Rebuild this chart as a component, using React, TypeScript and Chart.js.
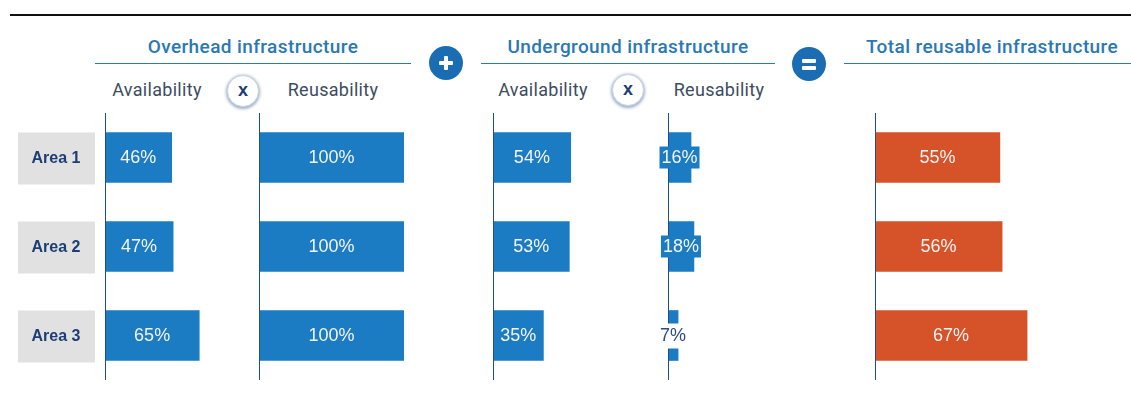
import React, { useEffect, useRef } from "react";
import { Chart, registerables } from "chart.js";

Chart.register(...registerables);

// ---- data ----
const categories = ["Area 1", "Area 2", "Area 3"];
const overheadAvailability = [46, 47, 65];
const overheadReusability = [100, 100, 100];
const undergroundAvailability = [54, 53, 35];
const undergroundReusability = [16, 18, 7];
const totalReusable = [55, 56, 67];

const BLUE = "#1b7cc3";
const ORANGE = "#d65229";
const NAVY = "#1e4f8b";
const TITLE_BLUE = "#2a78b5";
const SUB_GREY = "#3d4c60";
const AREA_NAVY = "#1d3d74";

const CHART_TOP = 113;
const CHART_H = 267;
const PAD = 24;

type PanelProps = {
  values: number[];
  color: string;
  axisX: number;
  pxPerUnit: number;
  max: number;
  withCategories?: boolean;
};

const labelPlugin = {
  id: "panelLabels",
  afterDatasetsDraw(chart: any) {
    const { ctx, chartArea } = chart;
    const opts = chart.options.plugins.panelLabels || {};
    ctx.save();
    // category boxes
    if (opts.withCategories) {
      const meta = chart.getDatasetMeta(0);
      meta.data.forEach((bar: any, i: number) => {
        const y = bar.y;
        ctx.fillStyle = "#e1e1e1";
        ctx.fillRect(18, y - 25, 77, 52);
        ctx.fillStyle = AREA_NAVY;
        ctx.font = "bold 16px 'Liberation Sans', Arial, sans-serif";
        ctx.textAlign = "center";
        ctx.textBaseline = "middle";
        ctx.fillText(chart.data.labels[i], 56, y + 1);
      });
    }
    // axis line
    ctx.strokeStyle = NAVY;
    ctx.lineWidth = 1;
    ctx.beginPath();
    ctx.moveTo(Math.round(chartArea.left) + 0.5, chartArea.top);
    ctx.lineTo(Math.round(chartArea.left) + 0.5, chartArea.bottom);
    ctx.stroke();
    // value labels
    const meta = chart.getDatasetMeta(0);
    const ds = chart.data.datasets[0];
    ctx.font = "18px 'Liberation Sans', Arial, sans-serif";
    ctx.textAlign = "center";
    ctx.textBaseline = "middle";
    meta.data.forEach((bar: any, i: number) => {
      const v = ds.data[i];
      const text = v + "%";
      const bw = bar.x - bar.base;
      const cx = (bar.x + bar.base) / 2;
      const cy = bar.y;
      const tw = ctx.measureText(text).width;
      if (bw < 14) {
        ctx.fillStyle = "#ffffff";
        ctx.fillRect(cx - tw / 2 - 3, cy - 12, tw + 6, 25);
        ctx.fillStyle = "#2c4a86";
      } else if (tw + 6 > bw) {
        ctx.fillStyle = ds.backgroundColor;
        ctx.fillRect(cx - tw / 2 - 2, cy - 11, tw + 4, 22);
        ctx.fillStyle = "#f4f4f4";
      } else {
        ctx.fillStyle = "#f4f4f4";
      }
      ctx.fillText(text, cx, cy + 1);
    });
    ctx.restore();
  },
};

function Panel({ values, color, axisX, pxPerUnit, max, withCategories }: PanelProps) {
  const ref = useRef<HTMLCanvasElement>(null);
  const padLeft = withCategories ? axisX : PAD;
  const width = padLeft + max * pxPerUnit + PAD;
  const left = axisX - padLeft;
  useEffect(() => {
    if (!ref.current) return;
    const chart = new Chart(ref.current, {
      type: "bar",
      data: {
        labels: categories,
        datasets: [
          {
            data: values,
            backgroundColor: color,
            borderWidth: 0,
            barThickness: 50,
          },
        ],
      },
      options: {
        indexAxis: "y",
        responsive: false,
        maintainAspectRatio: false,
        animation: false,
        layout: { padding: { left: padLeft, right: PAD, top: 0, bottom: 0 } },
        scales: {
          x: { display: false, min: 0, max },
          y: { display: false },
        },
        plugins: {
          legend: { display: false },
          tooltip: { enabled: false },
          panelLabels: { withCategories: !!withCategories },
        } as any,
      },
      plugins: [labelPlugin],
    } as any);
    return () => chart.destroy();
  }, []);
  return (
    <canvas
      ref={ref}
      width={width}
      height={CHART_H}
      style={{ position: "absolute", left, top: CHART_TOP, width, height: CHART_H }}
    />
  );
}

const textBase: React.CSSProperties = {
  position: "absolute",
  fontFamily: "Roboto, 'Liberation Sans', Arial, sans-serif",
  whiteSpace: "nowrap",
  transform: "translate(-50%, -50%)",
};

function Title({ x, y, text }: { x: number; y: number; text: string }) {
  return (
    <div
      style={{
        ...textBase,
        left: x,
        top: y,
        color: TITLE_BLUE,
        fontSize: 19,
        fontWeight: 500,
        letterSpacing: 0.4,
      }}
    >
      {text}
    </div>
  );
}

function Sub({ x, y, text }: { x: number; y: number; text: string }) {
  return (
    <div
      style={{
        ...textBase,
        left: x,
        top: y,
        color: SUB_GREY,
        fontSize: 18,
        fontWeight: 400,
        letterSpacing: 0.3,
      }}
    >
      {text}
    </div>
  );
}

function HLine({ x1, x2, y }: { x1: number; x2: number; y: number }) {
  return <div style={{ position: "absolute", left: x1, top: y, width: x2 - x1, height: 1, background: TITLE_BLUE }} />;
}

function Times({ x, y }: { x: number; y: number }) {
  return (
    <div
      style={{
        position: "absolute",
        left: x - 16,
        top: y - 16,
        width: 32,
        height: 32,
        borderRadius: "50%",
        background: "#fff",
        border: "1px solid #c9d3df",
        boxShadow: "0 1px 3px 1px rgba(40,80,140,0.45)",
        boxSizing: "border-box",
        display: "flex",
        alignItems: "center",
        justifyContent: "center",
        color: "#1d3d74",
        fontFamily: "'Liberation Sans', Arial, sans-serif",
        fontWeight: 700,
        fontSize: 18,
        lineHeight: "18px",
        paddingBottom: 2,
      }}
    >
      x
    </div>
  );
}

function Op({ x, y, sym }: { x: number; y: number; sym: "+" | "=" }) {
  return (
    <div
      style={{
        position: "absolute",
        left: x - 17,
        top: y - 17,
        width: 34,
        height: 34,
        borderRadius: "50%",
        background: "#1a6db3",
      }}
    >
      {sym === "+" ? (
        <>
          <div style={{ position: "absolute", left: 10, top: 15, width: 14, height: 4, background: "#fff", borderRadius: 1 }} />
          <div style={{ position: "absolute", left: 15, top: 10, width: 4, height: 14, background: "#fff", borderRadius: 1 }} />
        </>
      ) : (
        <>
          <div style={{ position: "absolute", left: 10, top: 12, width: 14, height: 4, background: "#fff", borderRadius: 1 }} />
          <div style={{ position: "absolute", left: 10, top: 19, width: 14, height: 4, background: "#fff", borderRadius: 1 }} />
        </>
      )}
    </div>
  );
}

export default function App() {
  useEffect(() => {
    document.body.style.margin = "0";
  }, []);
  return (
    <div style={{ position: "relative", width: 1131, height: 410, background: "#fff", overflow: "hidden" }}>
      <div style={{ position: "absolute", left: 10, top: 14, width: 1121, height: 2, background: "#111" }} />

      <Title x={253} y={46} text="Overhead infrastructure" />
      <Title x={628} y={46} text="Underground infrastructure" />
      <Title x={992} y={46} text="Total reusable infrastructure" />
      <HLine x1={95} x2={411} y={63} />
      <HLine x1={481} x2={775} y={63} />
      <HLine x1={844} x2={1131} y={63} />
      <Op x={446} y={63} sym="+" />
      <Op x={809} y={64} sym="=" />

      <Sub x={157} y={89} text="Availability" />
      <Sub x={333} y={89} text="Reusability" />
      <Sub x={543} y={89} text="Availability" />
      <Sub x={719} y={89} text="Reusability" />
      <Times x={243} y={91} />
      <Times x={628} y={90} />

      <Panel values={overheadAvailability} color={BLUE} axisX={105} pxPerUnit={1.45} max={100} withCategories />
      <Panel values={overheadReusability} color={BLUE} axisX={259} pxPerUnit={1.45} max={100} />
      <Panel values={undergroundAvailability} color={BLUE} axisX={493} pxPerUnit={1.44} max={100} />
      <Panel values={undergroundReusability} color={BLUE} axisX={668} pxPerUnit={1.44} max={100} />
      <Panel values={totalReusable} color={ORANGE} axisX={875} pxPerUnit={2.27} max={100} />
    </div>
  );
}
